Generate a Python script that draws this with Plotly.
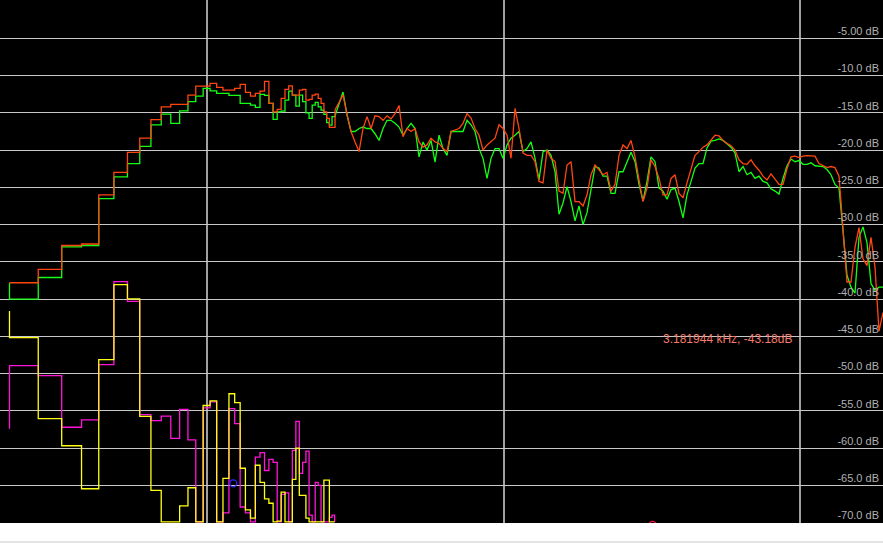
import numpy as np
import plotly.graph_objects as go

# ---------------- data ----------------
# FFT bin centre frequencies (Hz), bins 4..50, shown as steps
LF_HZ = [21.53, 26.92, 32.30, 37.68, 43.07, 48.45, 53.83, 59.22, 64.60, 69.98,
         75.37, 80.75, 86.13, 91.52, 96.90, 102.28, 107.67, 113.05, 118.43, 123.82,
         129.20, 134.58, 139.97, 145.35, 150.73, 156.12, 161.50, 166.88, 172.27, 177.65,
         183.03, 188.42, 193.80, 199.18, 204.57, 209.95, 215.33, 220.72, 226.10, 231.48,
         236.87, 242.25, 247.63, 253.02, 258.40, 263.78, 269.17]

# level just before the first drawn bin (start stub)
RED_START_DB = -37.8
GREEN_START_DB = -37.8
YELLOW_START_DB = -41.6
MAGENTA_START_DB = -57.4

# red / green, bins 4..49 (dB)
RED_LF_DB = [-37.8, -36.0, -32.8, -32.6, -26.0, -23.0, -20.3, -18.4, -15.9,
             -14.19, -13.87, -13.87, -12.62, -11.4, -11.4, -11.05, -11.58, -11.95, -11.95,
             -11.72, -11.18, -12.25, -12.75, -12.39, -12.08, -10.78, -13.73, -14.86, -14.54,
             -13.06, -11.85, -11.37, -12.62, -12.62, -11.95, -11.85, -13.29, -13.2, -12.62,
             -12.48, -13.06, -13.73, -14.86, -15.75, -16.96, -16.96]
GREEN_LF_DB = [-40.0, -37.1, -33.0, -32.8, -26.5, -23.6, -21.8, -19.5, -16.6,
               -15.17, -16.4, -14.72, -13.5, -12.75, -11.72, -12.04, -12.39, -12.39, -12.66,
               -12.66, -13.73, -13.73, -13.96, -14.27, -12.52, -12.66, -13.73, -15.88, -14.86,
               -14.77, -13.29, -12.08, -12.62, -14.1, -12.62, -13.5, -15.0, -15.75, -13.96,
               -13.6, -14.19, -14.63, -15.2, -16.3, -16.65, -15.5]

# yellow / magenta, bins 4..50 (dB)
YELLOW_LF_DB = [-45.17, -56.05, -59.68, -65.45, -48.12, -38.05, -39.98, -55.74, -65.68,
                -69.9, -69.9, -67.74, -65.32, -69.9, -54.28, -53.65, -69.9, -64.06, -52.7,
                -53.9, -62.7, -68.3, -69.4, -62.3, -64.6, -66.8, -67.4, -69.9, -69.8,
                -65.9, -69.9, -69.9, -64.2, -60.0, -66.35, -66.35, -69.4, -69.9, -69.9,
                -69.9, -69.9, -69.9, -64.3, -64.3, -69.9, -69.9, -69.9]
MAGENTA_LF_DB = [-48.93, -50.27, -57.2, -56.2, -48.8, -37.65, -40.3, -55.5, -56.3,
                 -55.7, -58.7, -54.8, -58.9, -69.9, -54.6, -53.8, -69.9, -68.7, -54.7,
                 -56.7, -67.9, -68.7, -69.9, -61.2, -60.6, -63.0, -61.5, -61.9, -69.9,
                 -66.2, -66.0, -69.9, -60.3, -56.4, -63.4, -61.9, -60.4, -69.0, -69.9,
                 -64.6, -65.0, -69.9, -69.9, -69.9, -69.3, -69.0, -69.9]

# upper band: readings on a log-spaced frequency grid 270 Hz .. 19.06 kHz
HF_START_HZ, HF_END_HZ, HF_COUNT = 270.0, 19058.0, 138
RED_HF_DB = [-14.6, -13.5, -12.6, -15.2, -17.5, -18.9, -20.2, -17.1, -15.5, -17.1,
             -15.4, -15.5, -16.0, -15.4, -15.8, -15.1, -14.0, -18.2, -17.1, -17.5,
             -17.1, -18.9, -19.6, -19.3, -18.4, -18.9, -19.1, -19.8, -20.2, -17.5,
             -17.3, -17.1, -16.4, -15.1, -15.7, -17.1, -18.0, -20.0, -19.3, -18.9,
             -18.4, -16.6, -17.1, -18.0, -21.1, -14.4, -17.1, -20.4, -20.7,
             -20.7, -21.55, -24.2, -24.4, -20.0, -21.1, -21.55, -25.5, -25.8, -22.0,
             -21.55, -26.9, -26.9, -27.5, -26.0, -23.3, -22.0, -22.7, -23.3, -23.0,
             -25.5, -24.6, -20.7, -19.3, -19.8, -18.7, -20.9, -24.0, -26.9, -25.1,
             -21.3, -22.2, -23.8, -26.0, -26.0, -23.8, -23.3, -25.8, -26.4, -24.4,
             -22.4, -20.7, -20.2, -19.6, -19.3, -18.7, -18.0, -18.1, -18.7, -19.1,
             -19.4, -20.0, -21.3, -21.8, -21.9, -21.3, -22.1, -22.7, -23.5, -24.0,
             -23.2, -23.9, -24.6, -24.6, -22.5, -20.9, -20.8, -21.0, -20.8, -20.75,
             -20.8, -20.8, -21.8, -22.1, -22.35, -22.2, -22.35, -23.5, -30.4, -37.7,
             -37.7, -33.05, -30.4, -34.6, -35.5, -31.7, -35.7, -44.3, -41.8]
GREEN_HF_DB = [-15.4, -13.8, -12.2, -15.3, -17.5, -17.5, -17.1, -16.9, -17.1, -17.1,
               -17.8, -18.7, -17.1, -16.0, -16.0, -16.4, -16.9, -18.0, -17.1, -16.4,
               -17.1, -20.9, -18.9, -20.0, -18.7, -21.6, -18.0, -19.8, -20.7, -17.5,
               -17.5, -17.5, -17.5, -16.0, -16.6, -17.5, -19.8, -21.1, -23.8, -21.1,
               -19.8, -19.8, -21.1, -19.3, -18.4, -18.0, -17.5, -20.2, -19.8,
               -18.9, -21.1, -24.0, -20.2, -20.0, -20.7, -22.9, -28.6, -27.1, -24.9,
               -26.9, -29.5, -27.5, -30.0, -28.4, -25.1, -22.2, -22.4, -23.5, -23.5,
               -25.8, -25.8, -22.9, -22.9, -21.55, -20.3, -21.55, -24.6, -26.8, -24.2,
               -20.9, -21.55, -25.1, -25.5, -26.6, -25.3, -25.1, -26.9, -29.1, -26.0,
               -24.2, -22.4, -21.8, -21.8, -19.7, -18.8, -18.7, -18.5, -18.7, -19.1,
               -19.6, -20.4, -22.9, -22.2, -23.3, -23.0, -23.8, -23.5, -24.2, -24.4,
               -25.2, -25.5, -25.9, -23.8, -22.1, -21.2, -21.55, -21.4, -21.9, -21.9,
               -21.7, -22.1, -22.1, -22.2, -22.6, -23.3, -24.6, -25.1, -30.8, -36.8,
               -38.4, -39.2, -31.7, -30.3, -32.4, -37.9, -38.8, -38.4, -38.4]

# markers and readout
CURSOR_HZ, CURSOR_DB = 122.5, -64.73
PEAK_MARK_HZ, PEAK_MARK_DB = 3181.944, -70.3
READOUT_TEXT = "3.181944 kHz, -43.18dB"
READOUT_HZ, READOUT_DB = 5680.0, -45.3

# axes
X_RANGE_HZ = [20.0, 19058.0]
Y_RANGE_DB = [-70.05, 0.15]
X_GRID_HZ = [100, 1000, 10000]
Y_TICK_DB = [-5, -10, -15, -20, -25, -30, -35, -40, -45, -50, -55, -60, -65, -70]
Y_TICK_TEXT = ["-5.00 dB", "-10.0 dB", "-15.0 dB", "-20.0 dB", "-25.0 dB", "-30.0 dB",
               "-35.0 dB", "-40.0 dB", "-45.0 dB", "-50.0 dB", "-55.0 dB", "-60.0 dB",
               "-65.0 dB", "-70.0 dB"]

# ---------------- figure ----------------
HF_HZ = np.geomspace(HF_START_HZ, HF_END_HZ, HF_COUNT)

RED = "#ff4610"
GREEN = "#14ff14"
YELLOW = "#ffff14"
MAGENTA = "#ff14d8"
LW = 1.3

fig = go.Figure()


def step_trace(start_db, lf_db, color, tail_x=None, tail_y=None):
    xs = [LF_HZ[0]] + LF_HZ[:len(lf_db)]
    ys = [start_db] + list(lf_db)
    if tail_x is not None:
        xs = xs + [tail_x]
        ys = ys + [tail_y]
    fig.add_trace(go.Scatter(x=xs, y=ys, mode="lines", line=dict(color=color, width=LW, shape="hv"),
                             hoverinfo="skip"))


step_trace(MAGENTA_START_DB, MAGENTA_LF_DB, MAGENTA)
step_trace(YELLOW_START_DB, YELLOW_LF_DB, YELLOW)

step_trace(GREEN_START_DB, GREEN_LF_DB, GREEN, HF_HZ[0], GREEN_HF_DB[0])
fig.add_trace(go.Scatter(x=HF_HZ, y=GREEN_HF_DB, mode="lines", line=dict(color=GREEN, width=LW),
                         hoverinfo="skip"))
step_trace(RED_START_DB, RED_LF_DB, RED, HF_HZ[0], RED_HF_DB[0])
fig.add_trace(go.Scatter(x=HF_HZ, y=RED_HF_DB, mode="lines", line=dict(color=RED, width=LW),
                         hoverinfo="skip"))

fig.add_trace(go.Scatter(x=[CURSOR_HZ], y=[CURSOR_DB], mode="markers",
                         marker=dict(symbol="circle-open", size=7, color="#2a2aff", line=dict(width=1.3)),
                         hoverinfo="skip"))
fig.add_trace(go.Scatter(x=[PEAK_MARK_HZ], y=[PEAK_MARK_DB], mode="markers",
                         marker=dict(symbol="circle-open", size=7, color="#ff1050", line=dict(width=1.3)),
                         hoverinfo="skip"))

fig.add_annotation(x=np.log10(READOUT_HZ), y=READOUT_DB, xref="x", yref="y", text=READOUT_TEXT,
                   showarrow=False, xanchor="center", yanchor="middle",
                   font=dict(family="Arial", size=12, color="#f47a6a"))

# thin frame line at the very bottom of the window strip
fig.add_shape(type="line", xref="paper", yref="paper", x0=0, x1=1, y0=-0.0363, y1=-0.0363,
              line=dict(color="#c8c8c8", width=1))

fig.update_layout(
    width=883, height=544,
    margin=dict(l=0, r=0, t=0, b=21),
    paper_bgcolor="#ffffff",
    plot_bgcolor="#000000",
    showlegend=False,
    hovermode=False,
    xaxis=dict(type="log", range=[np.log10(X_RANGE_HZ[0]), np.log10(X_RANGE_HZ[1])],
               tickvals=X_GRID_HZ, showticklabels=False, ticks="",
               showgrid=True, gridcolor="#a0a0a0", gridwidth=2,
               zeroline=False, showline=False, fixedrange=True),
    yaxis=dict(range=Y_RANGE_DB, tickvals=Y_TICK_DB, ticktext=Y_TICK_TEXT,
               side="right", ticklabelposition="inside", ticks="",
               ticklabelshift=-7, ticklabelstandoff=1,
               tickfont=dict(family="Arial", size=11, color="#b0b0b0"),
               showgrid=True, gridcolor="#c8c8c8", gridwidth=1,
               zeroline=False, showline=False, fixedrange=True),
)

fig.write_html("out.html", config={"displayModeBar": False},
               post_script="document.body.style.margin='0';document.body.style.overflow='hidden';")
